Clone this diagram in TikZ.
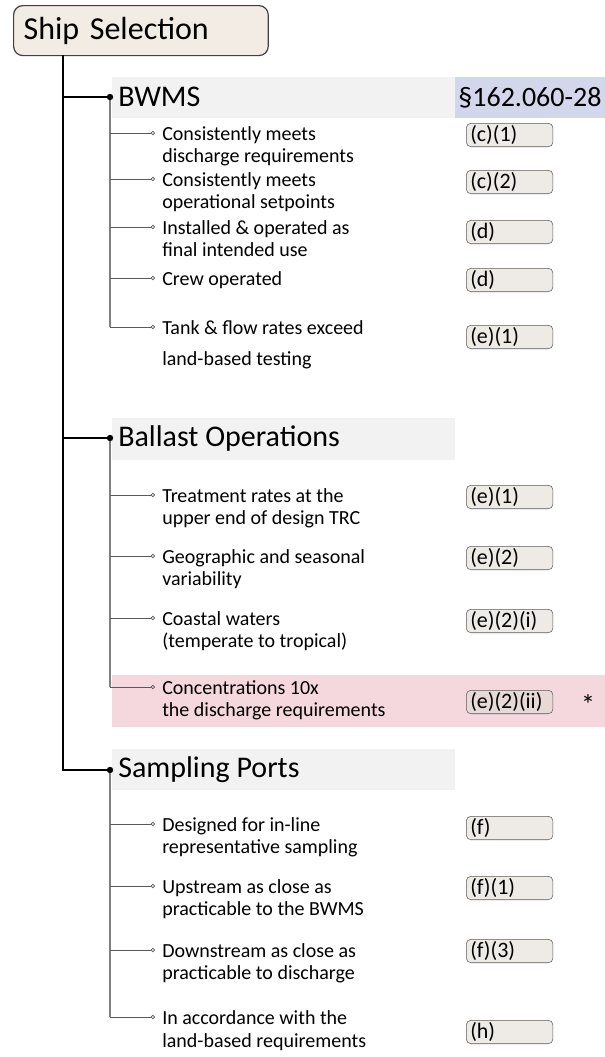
\documentclass[tikz,border=0pt]{standalone}
\usepackage{fontspec}
\setmainfont{Carlito}
\usepackage{tikz}
\usetikzlibrary{arrows.meta,positioning}
\definecolor{shipfill}{HTML}{F3ECE4}
\definecolor{bandgray}{HTML}{F2F2F2}
\definecolor{cfrblue}{HTML}{D3D7EB}
\definecolor{hotpink}{HTML}{F5D8DD}
\definecolor{tagfill}{HTML}{EEEBE7}
\definecolor{taghot}{HTML}{E7D9D6}
\tikzstyle{shipbox} = [draw=black!75, fill=shipfill, line width=0.9pt, rounded corners=7pt, anchor=north west, text width=176pt, inner xsep=7.5pt, minimum height=37.5pt, align=left, font=\fontsize{24}{28}\selectfont]
\tikzstyle{heading} = [anchor=west, inner sep=0pt, font=\fontsize{22.5}{27}\selectfont]
\tikzstyle{cfr} = [fill=cfrblue, minimum width=112.5pt, minimum height=30.75pt, inner sep=0pt, font=\fontsize{21}{25}\selectfont]
\tikzstyle{band} = [fill=bandgray]
\tikzstyle{item} = [anchor=north west, inner sep=0pt, align=left, font=\fontsize{15}{16.5}\selectfont]
\tikzstyle{tag} = [draw=black!65, fill=tagfill, rounded corners=3.5pt, anchor=west, text width=59pt, inner xsep=3pt, inner ysep=0.8pt, text height=13pt, text depth=3pt, align=left, font=\fontsize{16.5}{18}\selectfont]
\tikzstyle{trunk} = [draw=black, line width=1.5pt]
\tikzstyle{stem} = [draw=black!50, line width=0.9pt]
\tikzstyle{twig} = [draw=black!65, line width=0.75pt, -{Circle[open, length=3.2pt, line width=0.5pt]}]
\begin{document}
\begin{tikzpicture}[x=0.75pt, y=-0.75pt]
\useasboundingbox (0,0) rectangle (605,1057);

% shaded bands behind the headings
\fill[band] (112,77) rectangle (455,118);
\fill[band] (112,418) rectangle (455,460);
\fill[band] (112,749) rectangle (455,790);
\fill[hotpink] (112,675) rectangle (605,727);

\node[shipbox] (ship) at (13,5) {Ship Selection};
\coordinate (root) at (63,55);

% the three groups
\coordinate (bwmsdot) at (110,97);
\coordinate (balldot) at (110,438);
\coordinate (sampdot) at (110,770);
\node[heading] (bwms) at (118,97) {BWMS};
\node[heading] (ball) at (118,438) {Ballast Operations};
\node[heading] (samp) at (118,770) {Sampling Ports};
\node[cfr] (cfr) at (530,97.5) {§162.060-28};

% BWMS
\coordinate (o-b1) at (155,133);
\coordinate (o-b2) at (155,179);
\coordinate (o-b3) at (155,227);
\coordinate (o-b4) at (155,278);
\coordinate (o-b5) at (155,327);
\node[item] (b1) at (162,126) {Consistently meets\\discharge requirements};
\node[item] (b2) at (162,172) {Consistently meets\\operational setpoints};
\node[item] (b3) at (162,220) {Installed \& operated as\\final intended use};
\node[item] (b4) at (162,271) {Crew operated};
\node[item] (b5) at (162,320) {Tank \& flow rates exceed\\[7pt]land-based testing};
\node[tag] (b1t) at (466,135) {(c)(1)};
\node[tag] (b2t) at (466,182) {(c)(2)};
\node[tag] (b3t) at (466,232) {(d)};
\node[tag] (b4t) at (466,280) {(d)};
\node[tag] (b5t) at (466,337) {(e)(1)};

% Ballast Operations
\coordinate (o-o1) at (155,495);
\coordinate (o-o2) at (155,556);
\coordinate (o-o3) at (155,618);
\coordinate (o-o4) at (155,687);
\node[item] (o1) at (162,488) {Treatment rates at the\\upper end of design TRC};
\node[item] (o2) at (162,549) {Geographic and seasonal\\variability};
\node[item] (o3) at (162,611) {Coastal waters\\(temperate to tropical)};
\node[item] (o4) at (162,680) {Concentrations 10x\\the discharge requirements};
\node[tag] (o1t) at (466,497) {(e)(1)};
\node[tag] (o2t) at (466,558) {(e)(2)};
\node[tag] (o3t) at (466,621) {(e)(2)(i)};
\node[tag, fill=taghot] (o4t) at (466,702) {(e)(2)(ii)};
\node[font=\fontsize{21}{24}\selectfont] (star) at (588,705) {*};

% Sampling Ports
\coordinate (o-s1) at (155,824);
\coordinate (o-s2) at (155,886);
\coordinate (o-s3) at (155,950);
\coordinate (o-s4) at (155,1017);
\node[item] (s1) at (162,817) {Designed for in-line\\representative sampling};
\node[item] (s2) at (162,879) {Upstream as close as\\practicable to the BWMS};
\node[item] (s3) at (162,943) {Downstream as close as\\practicable to discharge};
\node[item] (s4) at (162,1010) {In accordance with the\\[1pt]land-based requirements};
\node[tag] (s1t) at (466,828) {(f)};
\node[tag] (s2t) at (466,888) {(f)(1)};
\node[tag] (s3t) at (466,951) {(f)(3)};
\node[tag] (s4t) at (466,1032) {(h)};

% connectors
\draw[stem] (bwmsdot) -- (bwmsdot |- o-b5);
\draw[stem] (balldot) -- (balldot |- o-o4);
\draw[stem] (sampdot) -- (sampdot |- o-s4);
\foreach \k in {b1,b2,b3,b4,b5,o1,o2,o3,o4,s1,s2,s3,s4}
  \draw[twig] (bwmsdot |- o-\k) -- (o-\k);
\draw[trunk] (root) |- (sampdot);
\draw[trunk] (root) |- (bwmsdot);
\draw[trunk] (root) |- (balldot);
\foreach \d in {bwmsdot,balldot,sampdot}
  \fill (\d) circle (3.2);
\end{tikzpicture}
\end{document}
